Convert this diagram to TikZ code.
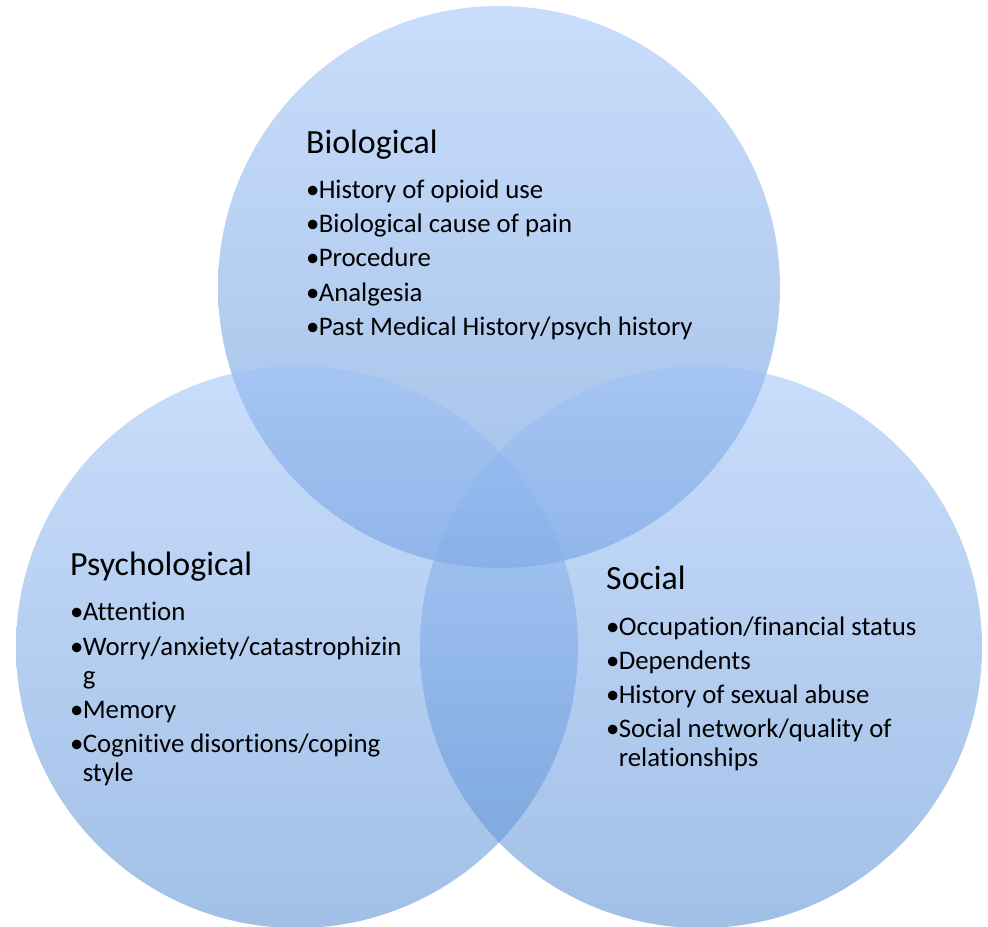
\documentclass[tikz,border=0pt]{standalone}
\usepackage{fontspec}
\setmainfont{Carlito}[Ligatures=NoCommon]
\definecolor{ctop}{RGB}{157,193,248}
\definecolor{cbot}{RGB}{84,140,210}
\newcommand\bul{\makebox[0.47em][l]{•}}
\newcommand\ind{\hspace*{0.47em}}
\tikzset{
  venn/.style={top color=ctop, bottom color=cbot, fill opacity=0.55, draw=none},
  ttl/.style={anchor=base west, inner sep=0pt, font=\fontsize{34}{40}\selectfont},
  itm/.style={anchor=base west, inner sep=0pt, font=\fontsize{26.9}{30}\selectfont},
}
\begin{document}
\begin{tikzpicture}[x=1bp,y=-1bp]
\useasboundingbox (0,0) rectangle (988,927);
% circles
\shade[venn] (499,287) circle[radius=281];
\shade[venn] (297,647) circle[radius=281];
\shade[venn] (701,647) circle[radius=281];
% Biological
\node[ttl] (b0) at (306,153) {Biological};
\node[itm] (b1) at (306,198) {\bul History of opioid use};
\node[itm] (b2) at (306,232) {\bul Biological cause of pain};
\node[itm] (b3) at (306,266) {\bul Procedure};
\node[itm] (b4) at (306,301) {\bul Analgesia};
\node[itm] (b5) at (306,335) {\bul Past Medical History/psych history};
% Psychological
\node[ttl] (p0) at (70,575) {Psychological};
\node[itm] (p1) at (70,620) {\bul Attention};
\node[itm] (p2) at (70,655) {\bul Worry/anxiety/catastrophizin};
\node[itm] (p3) at (70,684) {\ind g};
\node[itm] (p4) at (70,718) {\bul Memory};
\node[itm] (p5) at (70,752) {\bul Cognitive disortions/coping};
\node[itm] (p6) at (70,781) {\ind style};
% Social
\node[ttl] (s0) at (606,589) {Social};
\node[itm] (s1) at (606,635) {\bul Occupation/financial status};
\node[itm] (s2) at (606,669) {\bul Dependents};
\node[itm] (s3) at (606,703) {\bul History of sexual abuse};
\node[itm] (s4) at (606,737) {\bul Social network/quality of};
\node[itm] (s5) at (606,766) {\ind relationships};
\end{tikzpicture}
\end{document}
